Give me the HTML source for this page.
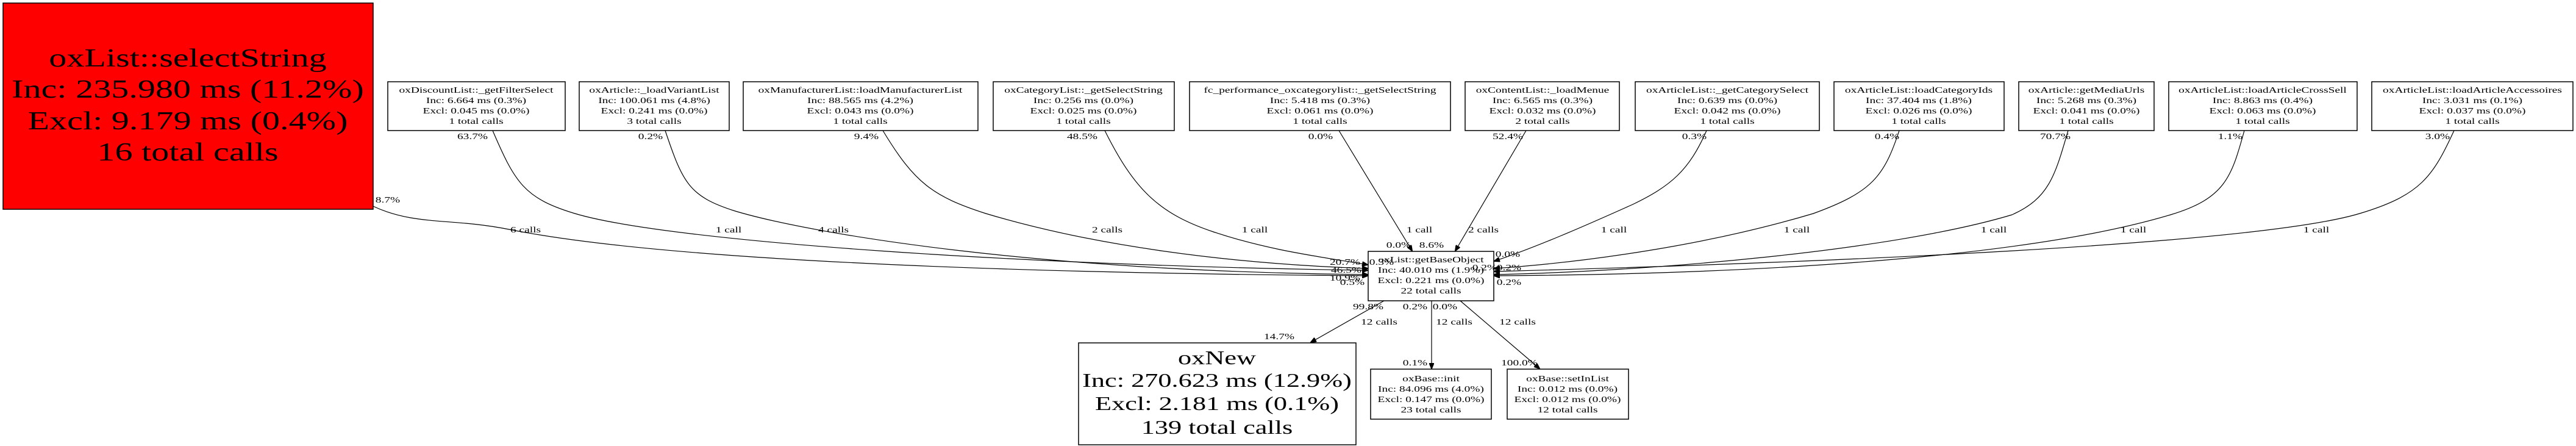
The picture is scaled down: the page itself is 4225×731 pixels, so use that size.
<!DOCTYPE html>
<html><head><meta charset="utf-8"><style>
html,body{margin:0;padding:0;background:#fff;}
svg{display:block;}
text{font-family:"Liberation Serif","DejaVu Serif",serif;fill:#000;text-anchor:middle;}
.s{font-size:14px;}
.e{font-size:14px;}
.b{font-size:42px;}
.m{font-size:32px;}
path{fill:none;stroke:#000;stroke-width:1.2;}
rect{stroke:#000;stroke-width:1.5;fill:#fff;}
</style></head><body>
<svg width="4225" height="731" viewBox="0 0 4225 731" xmlns="http://www.w3.org/2000/svg">
<defs><marker id="a" markerWidth="10" markerHeight="8" refX="9" refY="4" orient="auto" markerUnits="userSpaceOnUse"><path d="M0,0 L10,4 L0,8 z" style="fill:#000;stroke:#000"/></marker></defs>

<rect x="5" y="5" width="607" height="338" style="fill:#ff0000"/>
<text class="b" transform="translate(308,109) scale(1.385,1)">oxList::selectString</text>
<text class="b" transform="translate(308,160) scale(1.385,1)">Inc: 235.980 ms (11.2%)</text>
<text class="b" transform="translate(308,212) scale(1.385,1)">Excl: 9.179 ms (0.4%)</text>
<text class="b" transform="translate(308,263) scale(1.385,1)">16 total calls</text>

<g>
<rect x="636" y="134" width="291" height="80"/>
<text class="s" transform="translate(781,152) scale(1.385,1)">oxDiscountList::_getFilterSelect</text>
<text class="s" transform="translate(781,169) scale(1.385,1)">Inc: 6.664 ms (0.3%)</text>
<text class="s" transform="translate(781,186) scale(1.385,1)">Excl: 0.045 ms (0.0%)</text>
<text class="s" transform="translate(781,203) scale(1.385,1)">1 total calls</text>

<rect x="950" y="134" width="246" height="80"/>
<text class="s" transform="translate(1073,152) scale(1.385,1)">oxArticle::_loadVariantList</text>
<text class="s" transform="translate(1073,169) scale(1.385,1)">Inc: 100.061 ms (4.8%)</text>
<text class="s" transform="translate(1073,186) scale(1.385,1)">Excl: 0.241 ms (0.0%)</text>
<text class="s" transform="translate(1073,203) scale(1.385,1)">3 total calls</text>

<rect x="1219" y="134" width="385" height="80"/>
<text class="s" transform="translate(1411,152) scale(1.385,1)">oxManufacturerList::loadManufacturerList</text>
<text class="s" transform="translate(1411,169) scale(1.385,1)">Inc: 88.565 ms (4.2%)</text>
<text class="s" transform="translate(1411,186) scale(1.385,1)">Excl: 0.043 ms (0.0%)</text>
<text class="s" transform="translate(1411,203) scale(1.385,1)">1 total calls</text>

<rect x="1629" y="134" width="297" height="80"/>
<text class="s" transform="translate(1777,152) scale(1.385,1)">oxCategoryList::_getSelectString</text>
<text class="s" transform="translate(1777,169) scale(1.385,1)">Inc: 0.256 ms (0.0%)</text>
<text class="s" transform="translate(1777,186) scale(1.385,1)">Excl: 0.025 ms (0.0%)</text>
<text class="s" transform="translate(1777,203) scale(1.385,1)">1 total calls</text>

<rect x="1951" y="134" width="428" height="80"/>
<text class="s" transform="translate(2165,152) scale(1.385,1)">fc_performance_oxcategorylist::_getSelectString</text>
<text class="s" transform="translate(2165,169) scale(1.385,1)">Inc: 5.418 ms (0.3%)</text>
<text class="s" transform="translate(2165,186) scale(1.385,1)">Excl: 0.061 ms (0.0%)</text>
<text class="s" transform="translate(2165,203) scale(1.385,1)">1 total calls</text>

<rect x="2403" y="134" width="253" height="80"/>
<text class="s" transform="translate(2530,152) scale(1.385,1)">oxContentList::_loadMenue</text>
<text class="s" transform="translate(2530,169) scale(1.385,1)">Inc: 6.565 ms (0.3%)</text>
<text class="s" transform="translate(2530,186) scale(1.385,1)">Excl: 0.032 ms (0.0%)</text>
<text class="s" transform="translate(2530,203) scale(1.385,1)">2 total calls</text>

<rect x="2682" y="134" width="302" height="80"/>
<text class="s" transform="translate(2833,152) scale(1.385,1)">oxArticleList::_getCategorySelect</text>
<text class="s" transform="translate(2833,169) scale(1.385,1)">Inc: 0.639 ms (0.0%)</text>
<text class="s" transform="translate(2833,186) scale(1.385,1)">Excl: 0.042 ms (0.0%)</text>
<text class="s" transform="translate(2833,203) scale(1.385,1)">1 total calls</text>

<rect x="3008" y="134" width="279" height="80"/>
<text class="s" transform="translate(3147,152) scale(1.385,1)">oxArticleList::loadCategoryIds</text>
<text class="s" transform="translate(3147,169) scale(1.385,1)">Inc: 37.404 ms (1.8%)</text>
<text class="s" transform="translate(3147,186) scale(1.385,1)">Excl: 0.026 ms (0.0%)</text>
<text class="s" transform="translate(3147,203) scale(1.385,1)">1 total calls</text>

<rect x="3311" y="134" width="222" height="80"/>
<text class="s" transform="translate(3422,152) scale(1.385,1)">oxArticle::getMediaUrls</text>
<text class="s" transform="translate(3422,169) scale(1.385,1)">Inc: 5.268 ms (0.3%)</text>
<text class="s" transform="translate(3422,186) scale(1.385,1)">Excl: 0.041 ms (0.0%)</text>
<text class="s" transform="translate(3422,203) scale(1.385,1)">1 total calls</text>

<rect x="3557" y="134" width="309" height="80"/>
<text class="s" transform="translate(3711,152) scale(1.385,1)">oxArticleList::loadArticleCrossSell</text>
<text class="s" transform="translate(3711,169) scale(1.385,1)">Inc: 8.863 ms (0.4%)</text>
<text class="s" transform="translate(3711,186) scale(1.385,1)">Excl: 0.063 ms (0.0%)</text>
<text class="s" transform="translate(3711,203) scale(1.385,1)">1 total calls</text>

<rect x="3890" y="134" width="330" height="80"/>
<text class="s" transform="translate(4055,152) scale(1.385,1)">oxArticleList::loadArticleAccessoires</text>
<text class="s" transform="translate(4055,169) scale(1.385,1)">Inc: 3.031 ms (0.1%)</text>
<text class="s" transform="translate(4055,186) scale(1.385,1)">Excl: 0.037 ms (0.0%)</text>
<text class="s" transform="translate(4055,203) scale(1.385,1)">1 total calls</text>
</g>

<rect x="2244" y="412" width="206" height="81"/>
<text class="s" transform="translate(2347,430) scale(1.385,1)">oxList::getBaseObject</text>
<text class="s" transform="translate(2347,447) scale(1.385,1)">Inc: 40.010 ms (1.9%)</text>
<text class="s" transform="translate(2347,464) scale(1.385,1)">Excl: 0.221 ms (0.0%)</text>
<text class="s" transform="translate(2347,481) scale(1.385,1)">22 total calls</text>

<rect x="1769" y="562" width="455" height="167"/>
<text class="m" transform="translate(1996,597) scale(1.385,1)">oxNew</text>
<text class="m" transform="translate(1996,634) scale(1.385,1)">Inc: 270.623 ms (12.9%)</text>
<text class="m" transform="translate(1996,672) scale(1.385,1)">Excl: 2.181 ms (0.1%)</text>
<text class="m" transform="translate(1996,711) scale(1.385,1)">139 total calls</text>

<rect x="2248" y="605" width="198" height="82"/>
<text class="s" transform="translate(2347,625) scale(1.385,1)">oxBase::init</text>
<text class="s" transform="translate(2347,642) scale(1.385,1)">Inc: 84.096 ms (4.0%)</text>
<text class="s" transform="translate(2347,659) scale(1.385,1)">Excl: 0.147 ms (0.0%)</text>
<text class="s" transform="translate(2347,676) scale(1.385,1)">23 total calls</text>

<rect x="2472" y="605" width="199" height="82"/>
<text class="s" transform="translate(2571,625) scale(1.385,1)">oxBase::setInList</text>
<text class="s" transform="translate(2571,642) scale(1.385,1)">Inc: 0.012 ms (0.0%)</text>
<text class="s" transform="translate(2571,659) scale(1.385,1)">Excl: 0.012 ms (0.0%)</text>
<text class="s" transform="translate(2571,676) scale(1.385,1)">12 total calls</text>

<g marker-end="url(#a)">
<path d="M612,338 C680,370 740,357 835,376 C1100,429 1700,448 2243,452"/>
<path d="M808,214 C845,300 860,325 943,350 C1100,397 1700,436 2243,443"/>
<path d="M1091,214 C1120,300 1130,322 1206,346 C1330,383 1700,445 2243,450"/>
<path d="M1448,214 C1500,300 1530,322 1617,350 C1780,399 2000,432 2243,440"/>
<path d="M1812,214 C1860,310 1900,350 1990,380 C2080,410 2160,420 2243,434"/>
<path d="M2196,214 L2316,411"/>
<path d="M2503,214 L2387,411"/>
<path d="M2799,214 C2770,280 2740,305 2678,335 C2600,370 2520,405 2451,428"/>
<path d="M3115,214 C3090,290 3070,315 2974,350 C2800,402 2600,430 2451,440"/>
<path d="M3392,214 C3370,290 3360,325 3300,352 C3100,412 2700,445 2451,450"/>
<path d="M3681,214 C3660,290 3650,325 3560,352 C3300,430 2800,450 2451,452"/>
<path d="M4025,214 C3990,290 3970,320 3870,350 C3700,401 3000,430 2451,445"/>
<path d="M2270,493 L2150,561"/>
<path d="M2348,493 L2348,604"/>
<path d="M2395,493 L2525,604"/>
</g>

<g>
<text class="e" transform="translate(775,228) scale(1.385,1)">63.7%</text>
<text class="e" transform="translate(1067,228) scale(1.385,1)">0.2%</text>
<text class="e" transform="translate(1421,228) scale(1.385,1)">9.4%</text>
<text class="e" transform="translate(1775,228) scale(1.385,1)">48.5%</text>
<text class="e" transform="translate(2166,228) scale(1.385,1)">0.0%</text>
<text class="e" transform="translate(2473,228) scale(1.385,1)">52.4%</text>
<text class="e" transform="translate(2779,228) scale(1.385,1)">0.3%</text>
<text class="e" transform="translate(3095,228) scale(1.385,1)">0.4%</text>
<text class="e" transform="translate(3371,228) scale(1.385,1)">70.7%</text>
<text class="e" transform="translate(3658,228) scale(1.385,1)">1.1%</text>
<text class="e" transform="translate(3998,228) scale(1.385,1)">3.0%</text>
<text class="e" transform="translate(636,332) scale(1.385,1)">8.7%</text>

<text class="e" transform="translate(862,381) scale(1.385,1)">6 calls</text>
<text class="e" transform="translate(1195,381) scale(1.385,1)">1 call</text>
<text class="e" transform="translate(1367,381) scale(1.385,1)">4 calls</text>
<text class="e" transform="translate(1816,381) scale(1.385,1)">2 calls</text>
<text class="e" transform="translate(2058,381) scale(1.385,1)">1 call</text>
<text class="e" transform="translate(2328,381) scale(1.385,1)">1 call</text>
<text class="e" transform="translate(2433,381) scale(1.385,1)">2 calls</text>
<text class="e" transform="translate(2647,381) scale(1.385,1)">1 call</text>
<text class="e" transform="translate(2947,381) scale(1.385,1)">1 call</text>
<text class="e" transform="translate(3270,381) scale(1.385,1)">1 call</text>
<text class="e" transform="translate(3499,381) scale(1.385,1)">1 call</text>
<text class="e" transform="translate(3799,381) scale(1.385,1)">1 call</text>

<text class="e" transform="translate(2294,406) scale(1.385,1)">0.0%</text>
<text class="e" transform="translate(2348,406) scale(1.385,1)">8.6%</text>
<text class="e" transform="translate(2206,434) scale(1.385,1)">20.7%</text>
<text class="e" transform="translate(2266,434) scale(1.385,1)">0.3%</text>
<text class="e" transform="translate(2208,447) scale(1.385,1)">46.5%</text>
<text class="e" transform="translate(2206,460) scale(1.385,1)">10.9%</text>
<text class="e" transform="translate(2218,467) scale(1.385,1)">0.5%</text>
<text class="e" transform="translate(2473,421) scale(1.385,1)">0.0%</text>
<text class="e" transform="translate(2435,443) scale(1.385,1)">0.2%</text>
<text class="e" transform="translate(2475,443) scale(1.385,1)">0.2%</text>
<text class="e" transform="translate(2475,467) scale(1.385,1)">0.2%</text>

<text class="e" transform="translate(2244,507) scale(1.385,1)">99.8%</text>
<text class="e" transform="translate(2321,507) scale(1.385,1)">0.2%</text>
<text class="e" transform="translate(2370,507) scale(1.385,1)">0.0%</text>
<text class="e" transform="translate(2262,532) scale(1.385,1)">12 calls</text>
<text class="e" transform="translate(2385,532) scale(1.385,1)">12 calls</text>
<text class="e" transform="translate(2489,532) scale(1.385,1)">12 calls</text>
<text class="e" transform="translate(2098,556) scale(1.385,1)">14.7%</text>
<text class="e" transform="translate(2321,599) scale(1.385,1)">0.1%</text>
<text class="e" transform="translate(2492,599) scale(1.385,1)">100.0%</text>
</g>
</svg>
</body></html>
